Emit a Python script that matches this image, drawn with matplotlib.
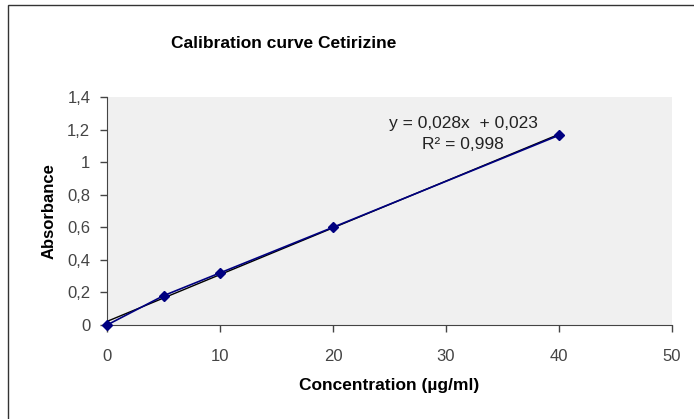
import numpy as np
import matplotlib.pyplot as plt
from matplotlib.patches import Rectangle

plt.rcParams['font.family'] = ['Liberation Sans', 'DejaVu Sans']

conc = [0, 5, 10, 20, 40]
absorb = [0.0, 0.18, 0.32, 0.60, 1.165]
x_ticks = [0, 10, 20, 30, 40, 50]
y_ticks = [0, 0.2, 0.4, 0.6, 0.8, 1.0, 1.2, 1.4]
y_labels = ["0", "0,2", "0,4", "0,6", "0,8", "1", "1,2", "1,4"]
x_labels = ["0", "10", "20", "30", "40", "50"]


def main():
    fig = plt.figure(figsize=(6.94, 4.19), dpi=100)
    fig.patches.append(Rectangle((8 / 694, -0.1), 1.2, 1 - 5 / 419 + 0.1,
                                 transform=fig.transFigure, fill=False,
                                 edgecolor="#333333", linewidth=1.0))

    ax = fig.add_axes([0.1542, 0.2243, 0.8141, 0.5442])
    ax.set_facecolor("#f0f0f0")

    # linear trendline from the data
    slope, icpt = np.polyfit(conc, absorb, 1)
    xs = np.array([min(conc), max(conc)])
    ax.plot(xs, slope * xs + icpt, color="black", linewidth=1.0, zorder=2)

    ax.plot(conc, absorb, color="#000080", linewidth=1.2, marker="D",
            markersize=5.5, markerfacecolor="#000080", zorder=3, clip_on=False)

    ax.set_xlim(0, 50)
    ax.set_ylim(0, 1.4)
    ax.set_xticks(x_ticks)
    ax.set_xticklabels(x_labels)
    ax.set_yticks(y_ticks)
    ax.set_yticklabels(y_labels)
    ax.tick_params(direction="out", length=5, width=1, color="#444444",
                   labelsize=12, labelcolor="#444444", pad=7)
    ax.tick_params(axis="x", pad=12)

    for s in ["top", "right"]:
        ax.spines[s].set_visible(False)
    for s in ["left", "bottom"]:
        ax.spines[s].set_color("#444444")

    ax.text(31.5, 1.24, "y = 0,028x  + 0,023", ha="center", va="center",
            fontsize=12.5, color="#222222")
    ax.text(31.5, 1.11, "R² = 0,998", ha="center", va="center",
            fontsize=12.5, color="#222222")

    ax.set_xlabel("Concentration (µg/ml)", fontsize=12.5, fontweight="bold",
                  labelpad=10)
    ax.set_ylabel("Absorbance", fontsize=12, fontweight="bold", labelpad=8)

    fig.text(284 / 694, 1 - 43 / 419, "Calibration curve Cetirizine",
             ha="center", va="center", fontsize=12.5, fontweight="bold")

    fig.savefig("out.png", dpi=100)


if __name__ == "__main__":
    main()
